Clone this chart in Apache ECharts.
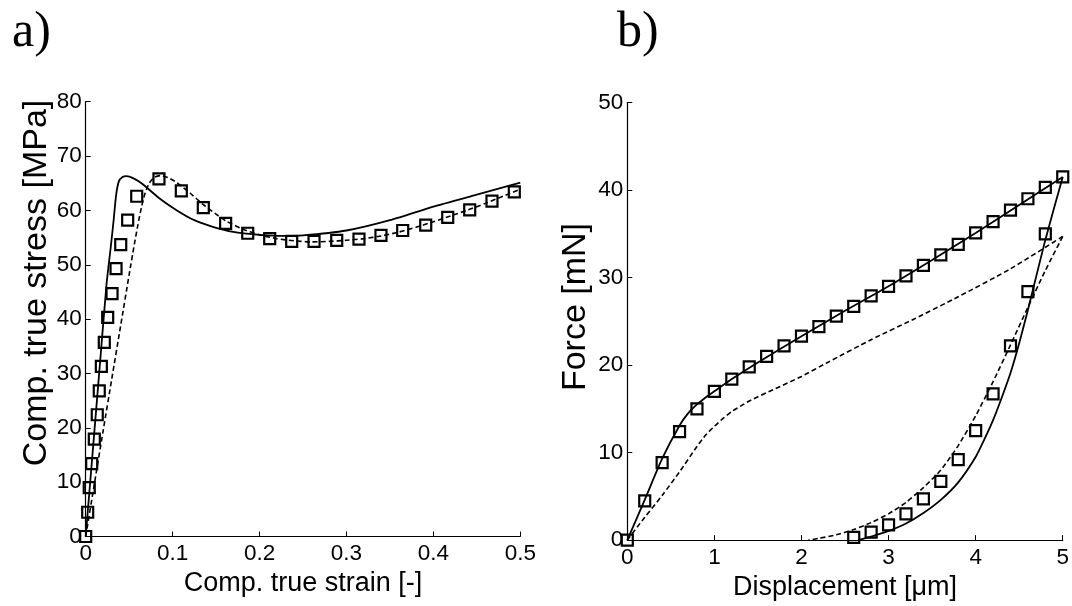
<!DOCTYPE html>
<html>
<head>
<meta charset="utf-8">
<script src="https://cdn.jsdelivr.net/npm/echarts@6/dist/echarts.min.js"></script>
<style>
html,body{margin:0;padding:0;background:#fff;}
#chart{width:1072px;height:606px;}
</style>
</head>
<body>
<div id="chart"></div>
<script>
// ---------- Panel a) : compression stress-strain ----------
const strainExp = [0, 0.0023, 0.0041, 0.0069, 0.0099, 0.0133, 0.0156, 0.018, 0.0214, 0.0253, 0.0303, 0.0349, 0.0403, 0.0483, 0.0587, 0.0843, 0.11, 0.1353, 0.161, 0.1864, 0.2117, 0.237, 0.2627, 0.2888, 0.3144, 0.3397, 0.3647, 0.3912, 0.4165, 0.4418, 0.4674, 0.4931];
const stressExp = [0, 4.46, 9.0, 13.4, 17.9, 22.4, 26.8, 31.3, 35.7, 40.3, 44.7, 49.3, 53.7, 58.2, 62.6, 65.8, 63.6, 60.5, 57.6, 55.8, 54.8, 54.3, 54.3, 54.5, 54.7, 55.4, 56.3, 57.3, 58.7, 60.1, 61.7, 63.4];

const strainModel1 = [0, 0.008, 0.016, 0.024, 0.029, 0.032, 0.035, 0.038, 0.042, 0.047, 0.055, 0.065, 0.085, 0.105, 0.125, 0.15, 0.175, 0.2, 0.225, 0.25, 0.3, 0.35, 0.4, 0.45, 0.5];
const stressModel1 = [0, 15.5, 31, 46.5, 53.5, 58, 62.8, 65.3, 66.1, 66.3, 65.9, 64.9, 62.2, 60, 58.2, 56.8, 55.9, 55.5, 55.3, 55.4, 56.3, 58.2, 60.7, 62.9, 65.1];

const strainModel2 = [0, 0.01, 0.02, 0.03, 0.04, 0.05, 0.056, 0.06, 0.064, 0.068, 0.073, 0.079, 0.086, 0.095, 0.105, 0.12, 0.135, 0.15, 0.162, 0.18, 0.2, 0.22, 0.24, 0.26, 0.28, 0.3, 0.32, 0.34, 0.36, 0.38, 0.4, 0.42, 0.44, 0.46, 0.48, 0.5];
const stressModel2 = [0, 9.7, 19.4, 29, 38.6, 48.2, 53.8, 57.3, 60.5, 63, 65, 66.1, 66.4, 66, 65.1, 63.2, 61.1, 59.3, 58, 56.6, 55.5, 54.8, 54.4, 54.2, 54.3, 54.5, 54.8, 55.3, 56, 56.9, 57.9, 59, 60.1, 61.3, 62.6, 63.9];

// ---------- Panel b) : indentation force-displacement ----------
const dispExp = [0, 0.2, 0.4, 0.6, 0.8, 1.0, 1.2, 1.4, 1.6, 1.8, 2.0, 2.2, 2.4, 2.6, 2.8, 3.0, 3.2, 3.4, 3.6, 3.8, 4.0, 4.2, 4.4, 4.6, 4.8, 5.0,
                 4.8, 4.6, 4.4, 4.2, 4.0, 3.8, 3.6, 3.4, 3.2, 3.0, 2.8, 2.6];
const forceExp = [0, 4.48, 8.86, 12.4, 15.0, 17.0, 18.4, 19.8, 21.0, 22.2, 23.3, 24.4, 25.6, 26.7, 27.9, 29.0, 30.2, 31.4, 32.6, 33.8, 35.1, 36.4, 37.7, 39.0, 40.3, 41.5,
                  35.0, 28.4, 22.2, 16.7, 12.5, 9.2, 6.7, 4.7, 3.0, 1.75, 0.9, 0.3];

const dispModel1Load = [0, 0.2, 0.4, 0.6, 0.7, 0.8, 0.9, 1.0, 1.2, 1.5, 2.0, 2.5, 3.0, 3.5, 4.0, 4.5, 5.0];
const forceModel1Load = [0, 4.6, 9.3, 13.1, 14.5, 15.5, 16.3, 17.0, 18.4, 20.3, 23.3, 26.2, 29.0, 32.0, 35.1, 38.3, 41.5];
const dispModel1Unload = [5.0, 4.8, 4.6, 4.5, 4.4, 4.3, 4.2, 4.1, 4.0, 3.8, 3.6, 3.4, 3.2, 3.0, 2.8, 2.65];
const forceModel1Unload = [41.5, 34.3, 26.3, 22.5, 19.1, 16.3, 13.7, 11.5, 9.5, 6.6, 4.6, 3.1, 1.9, 1.05, 0.4, 0];

const dispModel2Load = [0, 0.2, 0.4, 0.6, 0.8, 0.9, 1.0, 1.1, 1.2, 1.3, 1.4, 1.7, 2.0, 2.3, 2.8, 3.3, 3.8, 4.4, 5.0];
const forceModel2Load = [0, 2.6, 5.1, 7.8, 10.7, 12.0, 13.0, 13.9, 14.7, 15.3, 15.9, 17.3, 18.7, 20.3, 22.9, 25.3, 27.8, 31.0, 34.7];
const dispModel2Unload = [5.0, 4.8, 4.6, 4.4, 4.2, 4.0, 3.8, 3.6, 3.4, 3.2, 3.0, 2.8, 2.6, 2.4, 2.2, 2.08];
const forceModel2Unload = [34.7, 30.8, 26.6, 22.3, 18.1, 14.2, 10.8, 8.0, 6.0, 4.3, 3.0, 2.0, 1.2, 0.6, 0.2, 0];

const xTicksA = [0, 0.1, 0.2, 0.3, 0.4, 0.5];
const yTicksA = [0, 10, 20, 30, 40, 50, 60, 70, 80];
const xTicksB = [0, 1, 2, 3, 4, 5];
const yTicksB = [0, 10, 20, 30, 40, 50];

const zip = (xs, ys) => xs.map((x, i) => [x, ys[i]]);

const FONT = 'Liberation Sans';
function valueAxis(gridIndex, ticks, name, nameGap, isY) {
  return {
    type: 'value', gridIndex,
    min: ticks[0], max: ticks[ticks.length - 1], interval: ticks[1] - ticks[0],
    name, nameLocation: 'middle', nameGap,
    nameTextStyle: { color: '#000', fontSize: 27, fontFamily: FONT },
    axisLine: { show: true, onZero: false, lineStyle: { color: '#000', width: 1.2 } },
    axisTick: { show: true, inside: true, length: 5, lineStyle: { color: '#000', width: 1 } },
    axisLabel: { color: '#000', fontSize: 22.5, fontFamily: FONT, margin: isY ? 4 : 6, showMaxLabel: true, showMinLabel: true },
    splitLine: { show: false }
  };
}

const solidStyle = { color: '#000', width: 1.8, type: 'solid' };
const dashStyle = { color: '#000', width: 1.6, type: [5, 3] };
function lineSeries(idx, data, style) {
  return { type: 'line', xAxisIndex: idx, yAxisIndex: idx, data, showSymbol: false, symbol: 'none',
           smooth: 0.2, lineStyle: style, z: 3, silent: true, animation: false };
}
function markerSeries(idx, data) {
  return { type: 'scatter', xAxisIndex: idx, yAxisIndex: idx, data, symbol: 'rect', symbolSize: 11,
           itemStyle: { color: 'rgba(0,0,0,0)', borderColor: '#000', borderWidth: 2.2, opacity: 1 }, z: 2, silent: true, animation: false };
}

const yNameStyle = { fill: '#000', fontSize: 34, fontFamily: FONT, align: 'center', verticalAlign: 'middle' };

const chart = echarts.init(document.getElementById('chart'), null, { renderer: 'canvas' });
chart.setOption({
  backgroundColor: '#fff',
  animation: false,
  title: [
    { text: 'a)', left: 7, top: 3, textStyle: { fontFamily: 'Liberation Serif', fontSize: 50, fontWeight: 'normal', color: '#000' } },
    { text: 'b)', left: 612, top: 3, textStyle: { fontFamily: 'Liberation Serif', fontSize: 50, fontWeight: 'normal', color: '#000' } }
  ],
  graphic: [
    { type: 'text', x: 37, y: 283, rotation: Math.PI / 2, style: Object.assign({ text: 'Comp. true stress [MPa]' }, yNameStyle) },
    { type: 'text', x: 576, y: 307, rotation: Math.PI / 2, style: Object.assign({ text: 'Force [mN]' }, yNameStyle) }
  ],
  grid: [
    { left: 85.7, top: 101.7, width: 434.6, height: 434.8, containLabel: false },
    { left: 627.3, top: 102.5, width: 438.7, height: 438.5, containLabel: false }
  ],
  xAxis: [
    valueAxis(0, xTicksA, 'Comp. true strain [-]', 32, false),
    valueAxis(1, xTicksB, 'Displacement [\u03bcm]', 30, false)
  ],
  yAxis: [
    valueAxis(0, yTicksA, '', 33, true),
    valueAxis(1, yTicksB, '', 40, true)
  ],
  series: [
    markerSeries(0, zip(strainExp, stressExp)),
    lineSeries(0, zip(strainModel1, stressModel1), solidStyle),
    lineSeries(0, zip(strainModel2, stressModel2), dashStyle),
    markerSeries(1, zip(dispExp, forceExp)),
    lineSeries(1, zip(dispModel1Load, forceModel1Load), solidStyle),
    lineSeries(1, zip(dispModel1Unload, forceModel1Unload), solidStyle),
    lineSeries(1, zip(dispModel2Load, forceModel2Load), dashStyle),
    lineSeries(1, zip(dispModel2Unload, forceModel2Unload), dashStyle)
  ]
});
</script>
</body>
</html>
